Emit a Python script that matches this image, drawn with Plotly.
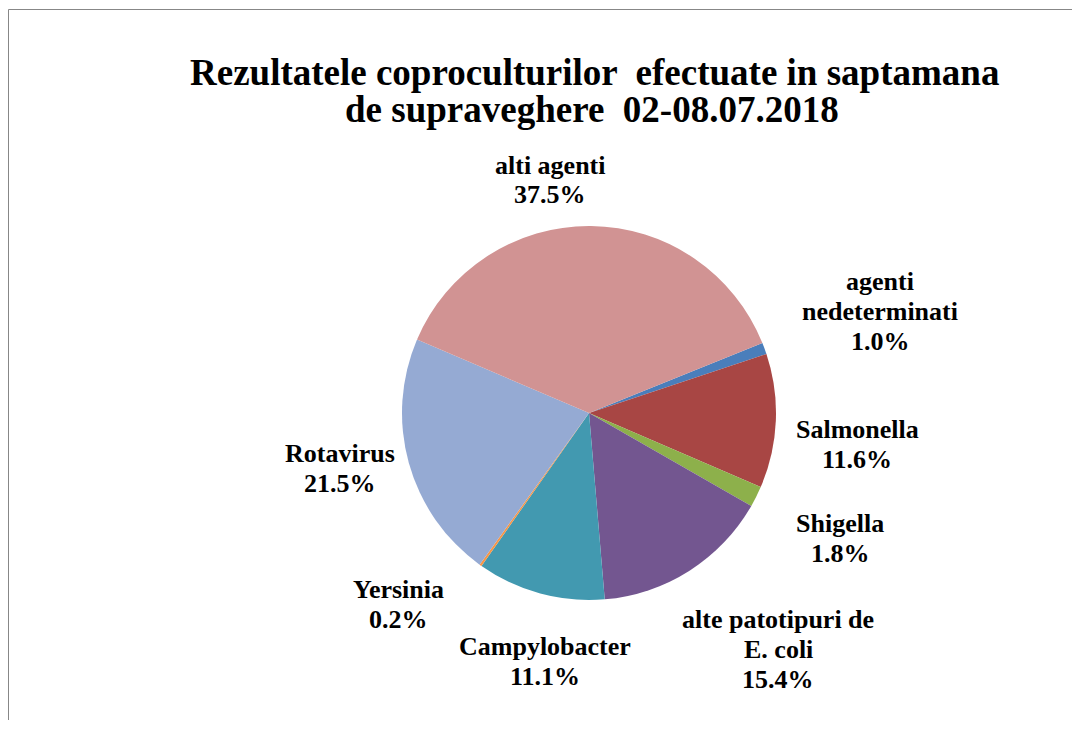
import plotly.graph_objects as go

categories = ["agenti nedeterminati", "Salmonella", "Shigella", "alte patotipuri de E. coli",
              "Campylobacter", "Yersinia", "Rotavirus", "alti agenti"]
display_labels = ["agenti<br>nedeterminati", "Salmonella", "Shigella", "alte patotipuri de<br>E. coli",
                  "Campylobacter", "Yersinia", "Rotavirus", "alti agenti"]
values = [1.0, 11.6, 1.8, 15.4, 11.1, 0.2, 21.5, 37.5]
colors = ["#4A7EBB", "#A84644", "#8DB04B", "#735690", "#4299B0", "#F79646", "#95AAD3", "#D19393"]

title_lines = ["Rezultatele coproculturilor  efectuate in saptamana",
               "de supraveghere  02-08.07.2018"]

OFF = 8  # page body margin
W, H = 1064, 712
FONT = "Liberation Serif"


def px(x):
    return (x - OFF) / W


def py(y):
    return 1 - (y - OFF) / H


# pie geometry (screen pixels)
CX, CY, R = 589, 413, 187

fig = go.Figure()
fig.add_trace(go.Pie(
    labels=categories,
    values=values,
    textinfo="none",
    marker=dict(colors=colors, line=dict(width=0)),
    sort=False,
    direction="clockwise",
    rotation=68,
    showlegend=False,
    hoverinfo="label+percent",
    domain=dict(x=[px(CX - R), px(CX + R)], y=[py(CY + R), py(CY - R)]),
))

annotations = []
for line, xc, yc in zip(title_lines, [594, 592], [72, 110]):
    annotations.append(dict(text="<b>" + line + "</b>", x=px(xc), y=py(yc), xref="paper", yref="paper",
                            xanchor="center", yanchor="middle", showarrow=False,
                            font=dict(family=FONT, size=37, color="#000000")))

# data-label anchor positions (screen pixels, centre of label block)
label_pos = [(880, 311), (857, 444), (840, 538), (778, 649), (545, 661), (398, 604), (340, 468), (550, 180)]
LINE = 30
for name, v, (lx, ly) in zip(display_labels, values, label_pos):
    lines = name.split("<br>") + [f"{v:.1f}%"]
    n = len(lines)
    for j, t in enumerate(lines):
        yy = ly + (j - (n - 1) / 2) * LINE
        annotations.append(dict(text="<b>" + t + "</b>", x=px(lx), y=py(yy), xref="paper", yref="paper",
                                xanchor="center", yanchor="middle", showarrow=False,
                                font=dict(family=FONT, size=26, color="#000000")))

shapes = [
    dict(type="line", xref="paper", yref="paper", x0=px(8.5), x1=px(1075), y0=py(9.5), y1=py(9.5),
         line=dict(color="#878787", width=1)),
    dict(type="line", xref="paper", yref="paper", x0=px(8.5), x1=px(8.5), y0=0.0, y1=py(9.5),
         line=dict(color="#878787", width=1)),
]

fig.update_layout(
    width=W, height=H,
    margin=dict(l=0, r=0, t=0, b=0),
    paper_bgcolor="#FFFFFF", plot_bgcolor="#FFFFFF",
    annotations=annotations,
    shapes=shapes,
)

fig.write_html("out.html")
